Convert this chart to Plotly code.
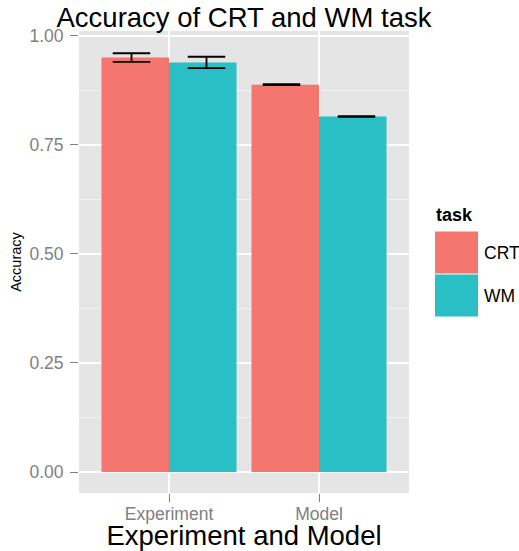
import plotly.graph_objects as go

# ---- data ----
groups = ["Experiment", "Model"]
tasks = ["CRT", "WM"]
crt_acc = [0.950, 0.888]
wm_acc = [0.939, 0.815]
crt_err = [0.010, 0.001]
wm_err = [0.013, 0.001]
y_ticks = [0.0, 0.25, 0.5, 0.75, 1.0]

# ---- style ----
W, H = 519, 551
L, R, T, B = 79, 110, 31, 58
PW, PH = W - L - R, H - T - B
colors = {"CRT": "#F5766E", "WM": "#2ABEC5"}
font = "Liberation Sans, Arial, Helvetica, sans-serif"
grey50 = "#7F7F7F"

def px_x(px):
    return (px - L) / PW

def px_y(py):
    return (H - B - py) / PH

xpos = [i + 1 for i in range(len(groups))]
fig = go.Figure()

for task, vals in zip(tasks, [crt_acc, wm_acc]):
    fig.add_trace(go.Bar(x=xpos, y=vals, name=task, marker_color=colors[task],
                         marker_line_width=0, showlegend=False))

# error bars dodged by 0.5 (ggplot position_dodge(width=1))
for task, vals, errs, off in zip(tasks, [crt_acc, wm_acc], [crt_err, wm_err], [-0.25, 0.25]):
    fig.add_trace(go.Scatter(
        x=[x + off for x in xpos], y=vals, mode="markers",
        marker=dict(size=0.1, opacity=0), showlegend=False, hoverinfo="skip",
        error_y=dict(type="data", array=errs, visible=True, color="black",
                     thickness=1.8, width=18.75)))

fig.update_layout(
    width=W, height=H,
    margin=dict(l=L, r=R, t=T, b=B, autoexpand=False),
    paper_bgcolor="white", plot_bgcolor="#E5E5E5",
    barmode="group", bargap=0.1, bargroupgap=0,
    font=dict(family=font, color="black"),
    showlegend=False,
    title=dict(text="Accuracy of CRT and WM task", font=dict(size=27.5, color="black"),
               x=0.5, xref="paper", xanchor="center",
               y=1 - 17.5 / H, yref="container", yanchor="middle"),
)

fig.update_xaxes(
    range=[0.4, 2.6], tickvals=xpos, ticktext=groups,
    showgrid=True, gridcolor="white", gridwidth=1.6, zeroline=False,
    ticks="outside", ticklen=8, tickcolor=grey50, tickwidth=1.3,
    tickfont=dict(size=17.5, color=grey50), ticklabelstandoff=-3,
    title=dict(text="Experiment and Model", font=dict(size=27.5, color="black"), standoff=3),
    automargin=False,
)
fig.update_yaxes(
    range=[-0.048, 1.011], tickvals=y_ticks, tickformat=".2f",
    showgrid=True, gridcolor="white", gridwidth=1.6, zeroline=False,
    minor=dict(tickvals=[0.125, 0.375, 0.625, 0.875], showgrid=True,
               gridcolor="#F2F2F2", gridwidth=0.8, ticks=""),
    ticks="outside", ticklen=8, tickcolor=grey50, tickwidth=1.3,
    tickfont=dict(size=17.5, color=grey50), ticklabelstandoff=3,
    title=dict(text="Accuracy", font=dict(size=14.5, color="black"), standoff=4),
    automargin=False,
)

# ---- manual legend (ggplot style) ----
fig.add_annotation(text="<b>task</b>", xref="paper", yref="paper",
                   x=px_x(434), y=px_y(215), xanchor="left", yanchor="middle",
                   showarrow=False, font=dict(size=18, color="black"))
key_top = 231
key_h = 43
for i, task in enumerate(tasks):
    y0 = key_top + i * key_h
    fig.add_shape(type="rect", xref="paper", yref="paper",
                  x0=px_x(435), x1=px_x(478), y0=px_y(y0 + 0.5), y1=px_y(y0 + key_h - 0.5),
                  fillcolor=colors[task], line=dict(width=0))
    fig.add_annotation(text=task, xref="paper", yref="paper",
                       x=px_x(482), y=px_y(y0 + key_h / 2), xanchor="left", yanchor="middle",
                       showarrow=False, font=dict(size=17.5, color="black"))

fig.write_html("out.html", config={"displayModeBar": False},
               post_script="document.body.style.margin='0';document.body.style.overflow='hidden';")
